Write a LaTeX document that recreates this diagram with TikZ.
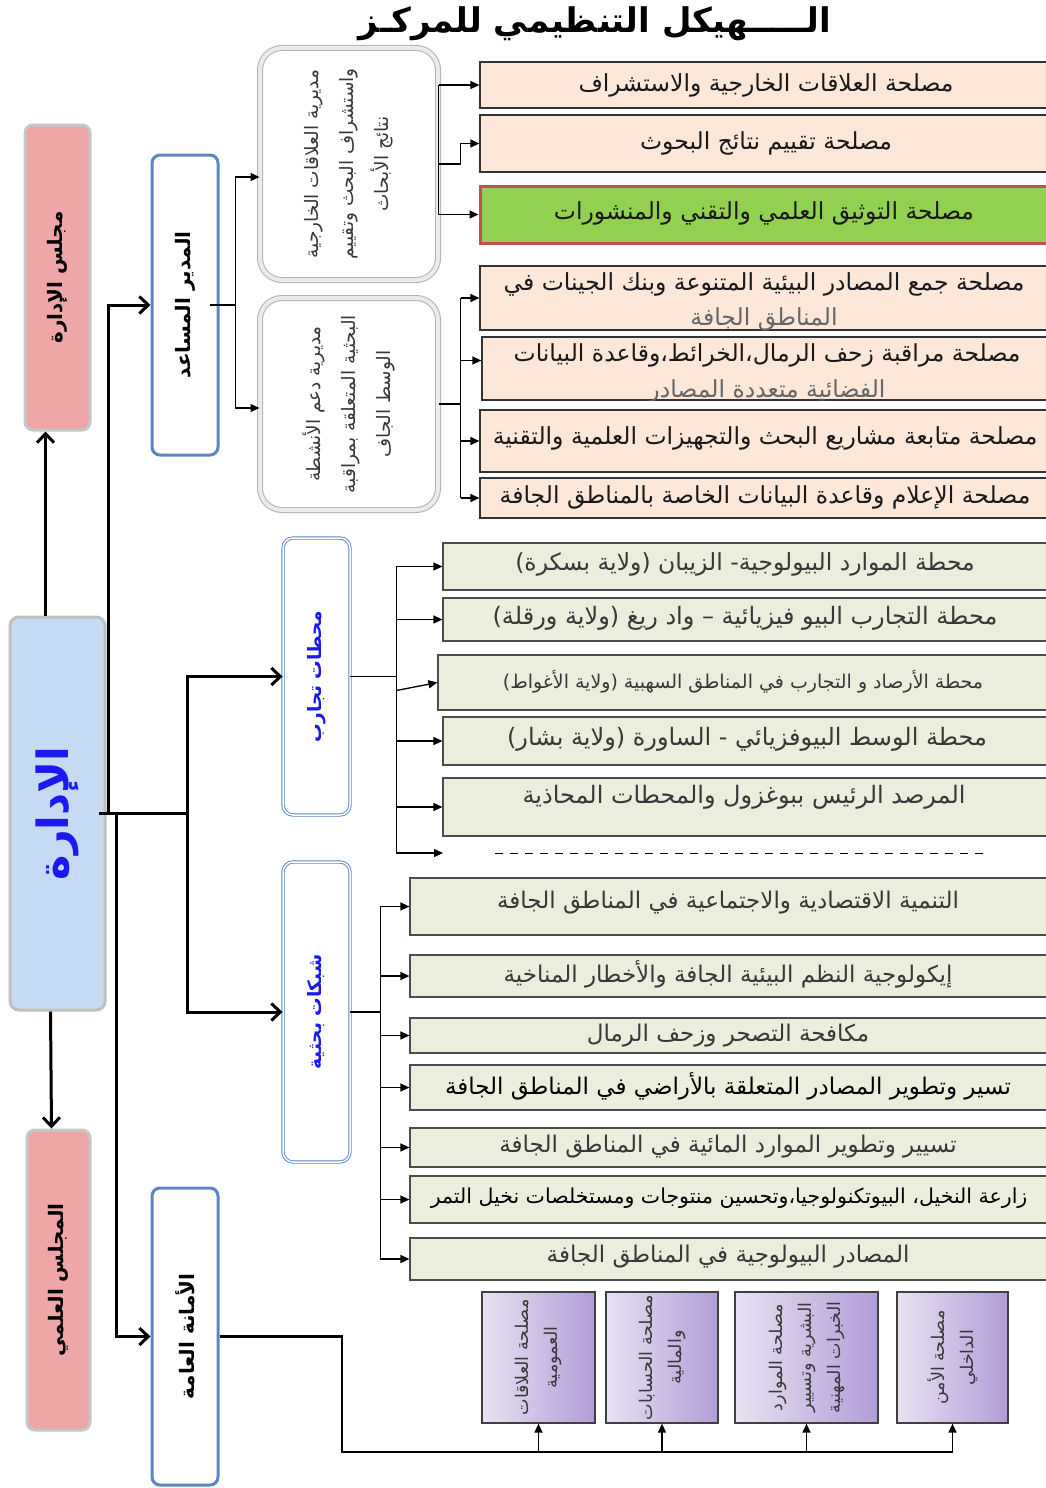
\documentclass[tikz,border=0pt]{standalone}
\usepackage{fontspec}
\usetikzlibrary{arrows.meta,calc,fit}
\TeXXeTstate=1
\newfontfamily\arabicfont[Script=Arabic]{DejaVu Sans}
\newcommand\AR[1]{{\arabicfont\beginR #1\endR}}
\definecolor{peach}{HTML}{FDE7D9}
\definecolor{olivebg}{HTML}{EBEEDC}
\definecolor{greenbg}{HTML}{92D050}
\definecolor{redborder}{HTML}{C0504D}
\definecolor{pinkbg}{HTML}{EFA6A6}
\definecolor{bluebg}{HTML}{C6DBF3}
\definecolor{blueborder}{HTML}{5B86C4}
\definecolor{purpleL}{HTML}{E8E2F2}
\definecolor{purpleR}{HTML}{B29CD6}
\definecolor{txtgray}{HTML}{383838}
\definecolor{bluetxt}{HTML}{1A1AF0}
\tikzset{
  fz/.style={font=\fontsize{#1}{#1}\selectfont},
  pbox/.style={draw=black!80, line width=1.2pt, fill=peach, inner sep=0pt},
  gbox/.style={draw=redborder, line width=3pt, fill=greenbg, inner sep=0pt},
  obox/.style={draw=black!70, line width=1.2pt, fill=olivebg, inner sep=0pt},
  pubox/.style={draw=black!75, line width=1.2pt, left color=purpleL, right color=purpleR, inner sep=0pt},
  pinkbox/.style={draw=black!22, line width=3pt, fill=pinkbg, rounded corners=8pt, inner sep=0pt},
  admbox/.style={draw=black!25, line width=3pt, fill=bluebg, rounded corners=9pt, inner sep=0pt},
  wbbox/.style={draw=blueborder, line width=3pt, fill=white, rounded corners=8pt, inner sep=0pt},
  dirbox/.style={draw=black!30, line width=1pt, double=black!8, double distance=4pt, fill=white, rounded corners=22pt, inner sep=0pt},
  vbbox/.style={draw=blueborder, line width=0.9pt, double=white, double distance=1.5pt, fill=white, rounded corners=10pt, inner sep=0pt},
  vtext/.style={rotate=90, align=center, inner sep=0pt},
  ptxt/.style={inner sep=0pt, text=black!90},
  otxt/.style={inner sep=0pt, text=txtgray},
  thickarr/.style={line width=3pt, -{Straight Barb[length=9pt,width=17pt]}},
  bigline/.style={line width=3pt},
  thinline/.style={line width=1.3pt},
  tarr/.style={line width=1.3pt, -{Triangle[length=9pt,width=8pt]}},
}
\begin{document}
\begin{tikzpicture}[x=1pt,y=-1pt]
\useasboundingbox[fill=white] (0,0) rectangle (1046,1488);

% title
\node[font=\fontsize{34}{40}\selectfont\bfseries] (title) at (595,24) {\AR{الـــــهيكل التنظيمي للمركـز}};

% left column
\node[pinkbox, fit={(25,125) (90,430)}] (board) {};
\node[vtext, font=\fontsize{20}{24}\selectfont\bfseries] (boardt) at (board.center) {\AR{مجلس الإدارة}};
\node[admbox, fit={(10,617) (105,1010)}] (adm) {};
\node[vtext, text=bluetxt, font=\fontsize{43}{50}\selectfont\bfseries] (admt) at (adm.center) {\AR{الإدارة}};
\node[pinkbox, fit={(27,1130) (90,1430)}] (sci) {};
\node[vtext, font=\fontsize{20}{24}\selectfont\bfseries] (scit) at (sci.center) {\AR{المجلس العلمي}};
\node[wbbox, fit={(152,155) (218,455)}] (asst) {};
\node[vtext, font=\fontsize{20}{24}\selectfont\bfseries] (asstt) at (asst.center) {\AR{المدير المساعد}};
\node[wbbox, fit={(152,1188) (218,1485)}] (sg) {};
\node[vtext, font=\fontsize{20}{24}\selectfont\bfseries] (sgt) at (sg.center) {\AR{الأمانة العامة}};

% directorates
\node[dirbox, fit={(260,48) (438,280)}] (dirA) {};
\node[vtext, font=\fontsize{18.5}{35}\selectfont, text=txtgray] (dirAt) at (dirA.center) {\AR{مديرية العلاقات الخارجية}\\\AR{واستشراف البحث وتقييم}\\\AR{نتائج الأبحاث}};
\node[dirbox, fit={(260,298) (438,510)}] (dirB) {};
\node[vtext, font=\fontsize{18.5}{35}\selectfont, text=txtgray] (dirBt) at (dirB.center) {\AR{مديرية دعم الأنشطة}\\\AR{البحثية المتعلقة بمراقبة}\\\AR{الوسط الجاف}};

% stations / networks
\node[vbbox, fit={(283,538) (350,815)}] (stat) {};
\node[vtext, text=bluetxt, font=\fontsize{18.5}{24}\selectfont\bfseries] (statt) at (stat.center) {\AR{محطات تجارب}};
\node[vbbox, fit={(283,862) (350,1162)}] (net) {};
\node[vtext, text=bluetxt, font=\fontsize{18.5}{24}\selectfont\bfseries] (nett) at (net.center) {\AR{شبكات بحثية}};

% services of directorate A
\node[pbox, fit={(480,62) (1052,108)}] (r1) {};
\node[ptxt, fz=23.5] (r1t) at (766,85) {\AR{مصلحة العلاقات الخارجية والاستشراف}};
\node[pbox, fit={(480,115) (1052,172)}] (r2) {};
\node[ptxt, fz=23.5] (r2t) at (766,143) {\AR{مصلحة تقييم نتائج البحوث}};
\node[gbox, fit={(480,186) (1052,243)}] (r3) {};
\node[ptxt, fz=23.5] (r3t) at (764,213) {\AR{مصلحة التوثيق العلمي والتقني والمنشورات}};
% services of directorate B
\node[pbox, fit={(480,266) (1052,330)}] (r4) {};
\begin{scope}
\clip (r4.north west) rectangle (r4.south east);
\node[ptxt, align=center, font=\fontsize{23.5}{35}\selectfont] (r4t) at (764,302) {\AR{مصلحة جمع المصادر البيئية المتنوعة وبنك الجينات في}\\\textcolor{black!60}{\AR{المناطق الجافة}}};
\end{scope}
\node[pbox, fit={(482,337) (1052,400)}] (r5) {};
\begin{scope}
\clip (r5.north west) rectangle (r5.south east);
\node[ptxt, align=center, font=\fontsize{23.5}{36}\selectfont] (r5t) at (767,373) {\AR{مصلحة مراقبة زحف الرمال،الخرائط،وقاعدة البيانات}\\\textcolor{black!60}{\AR{الفضائية متعددة المصادر}}};
\end{scope}
\node[pbox, fit={(480,410) (1052,472)}] (r6) {};
\node[ptxt, fz=23.5] (r6t) at (765,438) {\AR{مصلحة متابعة مشاريع البحث والتجهيزات العلمية والتقنية}};
\node[pbox, fit={(480,478) (1052,518)}] (r7) {};
\node[ptxt, fz=23.5] (r7t) at (765,497) {\AR{مصلحة الإعلام وقاعدة البيانات الخاصة بالمناطق الجافة}};

% stations
\node[obox, fit={(443,543) (1052,590)}] (s1) {};
\node[otxt, fz=23.5] (s1t) at (745,564) {\AR{محطة الموارد البيولوجية- الزيبان (ولاية بسكرة)}};
\node[obox, fit={(443,598) (1052,641)}] (s2) {};
\node[otxt, fz=24] (s2t) at (745,618) {\AR{محطة التجارب البيو فيزيائية – واد ريغ (ولاية ورقلة)}};
\node[obox, fit={(438,655) (1052,710)}] (s3) {};
\node[otxt, fz=19] (s3t) at (743,682) {\AR{محطة الأرصاد و التجارب في المناطق السهبية (ولاية الأغواط)}};
\node[obox, fit={(443,717) (1052,765)}] (s4) {};
\node[otxt, fz=24] (s4t) at (747,739) {\AR{محطة  الوسط البيوفزيائي - الساورة (ولاية بشار)}};
\node[obox, fit={(443,778) (1052,836)}] (s5) {};
\node[otxt, fz=24] (s5t) at (744,797) {\AR{المرصد الرئيس ببوغزول والمحطات المحاذية}};
\coordinate (dtip) at (443,853);
\coordinate (dA) at (495,853);
\coordinate (dB) at (985,853);
\draw[line width=1pt, dash pattern=on 8pt off 7pt] (dA) -- (dB);

% networks
\node[obox, fit={(410,878) (1052,935)}] (n1) {};
\node[otxt, fz=23] (n1t) at (728,903) {\AR{التنمية الاقتصادية والاجتماعية في المناطق الجافة}};
\node[obox, fit={(410,955) (1052,997)}] (n2) {};
\node[otxt, fz=23] (n2t) at (728,974) {\AR{إيكولوجية النظم البيئية الجافة والأخطار المناخية}};
\node[obox, fit={(410,1018) (1052,1053)}] (n3) {};
\node[otxt, fz=23] (n3t) at (728,1036) {\AR{مكافحة التصحر وزحف الرمال}};
\node[obox, fit={(410,1065) (1052,1110)}] (n4) {};
\node[otxt, text=black, fz=23] (n4t) at (728,1086) {\AR{تسير وتطوير المصادر المتعلقة بالأراضي في المناطق الجافة}};
\node[obox, fit={(410,1128) (1052,1167)}] (n5) {};
\node[otxt, fz=23] (n5t) at (728,1147) {\AR{تسيير وتطوير الموارد المائية في المناطق الجافة}};
\node[obox, fit={(410,1176) (1052,1223)}] (n6) {};
\node[otxt, text=black, fz=20.5] (n6t) at (729,1198) {\AR{زارعة النخيل، البيوتكنولوجيا،وتحسين منتوجات ومستخلصات نخيل التمر}};
\node[obox, fit={(410,1238) (1052,1280)}] (n7) {};
\node[otxt, fz=23] (n7t) at (728,1257) {\AR{المصادر البيولوجية في المناطق الجافة}};

% purple services
\node[pubox, fit={(482,1292) (595,1423)}] (p1) {};
\node[vtext, font=\fontsize{17.5}{29}\selectfont, text=txtgray] (p1t) at (p1.center) {\AR{مصلحة العلاقات}\\\AR{العمومية}};
\node[pubox, fit={(606,1292) (718,1423)}] (p2) {};
\node[vtext, font=\fontsize{17.5}{29}\selectfont, text=txtgray] (p2t) at (p2.center) {\AR{مصلحة الحسابات}\\\AR{والمالية}};
\node[pubox, fit={(735,1292) (878,1423)}] (p3) {};
\node[vtext, font=\fontsize{17.5}{29}\selectfont, text=txtgray] (p3t) at (p3.center) {\AR{مصلحة الموارد}\\\AR{البشرية وتسيير}\\\AR{الخبرات المهنية}};
\node[pubox, fit={(897,1292) (1008,1423)}] (p4) {};
\node[vtext, font=\fontsize{17.5}{29}\selectfont, text=txtgray] (p4t) at (p4.center) {\AR{مصلحة الأمن}\\\AR{الداخلي}};

% ---- connectors: left column
\draw[thickarr] ([xshift=-12pt]adm.north) -- ([xshift=-12pt]board.south);
\draw[thickarr] ([xshift=-7pt]adm.south) -- ([xshift=-7pt]sci.north);
\coordinate (j1) at (108,0);
\coordinate (j1b) at (116,0);
\coordinate (j2) at (187,0);
\draw[thickarr] (adm.east -| j1) |- (asst.west);
\draw[thickarr] (adm.east -| j1b) |- (sg.west);
\draw[bigline] ([xshift=-8pt]adm.east) -- (adm.east -| j2);
\draw[thickarr] (adm.east -| j2) |- (stat.west);
\draw[thickarr] (adm.east -| j2) |- (net.west);

% assistant director
\draw[thinline] ([xshift=-10pt]asst.east) -- ++(26,0) coordinate (aj);
\draw[tarr] (aj) |- ($(dirA.west)+(0,13)$);
\draw[tarr] (aj) |- ($(dirB.west)+(0,4)$);

% directorate A services
\draw[thinline] (dirA.east |- r1.west) -- (dirA.east |- r3.west);
\draw[tarr] (dirA.east |- r1.west) -- (r1.west);
\draw[tarr] (dirA.east |- r3.west) -- (r3.west);
\draw[tarr] (dirA.east) -- ++(22,0) |- (r2.west);

% directorate B services
\draw[thinline] (dirB.east) -- ++(22,0) coordinate (bj);
\draw[thinline] (bj |- r4.west) -- (bj |- r7.west);
\draw[tarr] (bj |- r4.west) -- (r4.west);
\draw[tarr] ($(bj |- r5.west)+(0,-8)$) -- ($(r5.west)+(0,-8)$);
\draw[tarr] (bj |- r6.west) -- (r6.west);
\draw[tarr] (bj |- r7.west) -- (r7.west);

% stations
\draw[thinline] (stat.east) -- ++(46,0) coordinate (sj);
\draw[thinline] (sj |- s1.west) -- (sj |- dtip);
\draw[tarr] (sj |- s1.west) -- (s1.west);
\draw[tarr] (sj |- s2.west) -- (s2.west);
\draw[tarr] ($(sj |- s3.west)+(0,8)$) -- (s3.west);
\draw[tarr] (sj |- s4.west) -- (s4.west);
\draw[tarr] (sj |- s5.west) -- (s5.west);
\draw[tarr] (sj |- dtip) -- (dtip);

% networks
\draw[thinline] (net.east) -- ++(30,0) coordinate (nj);
\draw[thinline] (nj |- n1.west) -- (nj |- n7.west);
\foreach \n in {n1,n2,n3,n4,n5,n6,n7}{\draw[tarr] (nj |- \n.west) -- (\n.west);}

% general secretariat
\coordinate (bl) at (342,1452);
\draw[line width=2.2pt] (sg.east) -| (bl) -- (bl -| p4.south);
\foreach \p in {p1,p2,p3,p4}{\draw[tarr] (bl -| \p.south) -- (\p.south);}
\end{tikzpicture}
\end{document}
